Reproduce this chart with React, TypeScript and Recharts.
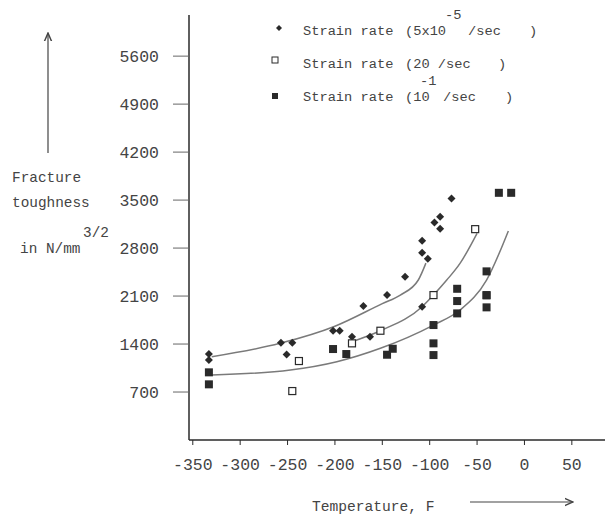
import React from "react";
import { ScatterChart, Scatter, XAxis, YAxis } from "recharts";

// strain rate 5x10^-5 /sec (diamonds)
const slowTemp = [-77, -89, -95, -89, -108, -108, -102, -126, -145, -170, -202, -195, -182, -163, -257, -245, -251, -333, -333, -108];
const slowK = [3524, 3256, 3174, 3081, 2906, 2731, 2643, 2381, 2114, 1954, 1594, 1594, 1506, 1506, 1419, 1419, 1249, 1254, 1166, 1944];

// strain rate 20 /sec (open squares)
const fastTemp = [-52, -96, -152, -182, -238, -245];
const fastK = [3076, 2114, 1594, 1410, 1152, 714];

// strain rate 10^-1 /sec (filled squares)
const midTemp = [-27, -14, -40, -71, -40, -71, -71, -40, -40, -96, -96, -96, -139, -145, -202, -188, -333, -333];
const midK = [3606, 3606, 2460, 2206, 2110, 2027, 1847, 2114, 1935, 1677, 1410, 1239, 1331, 1244, 1327, 1254, 987, 812];

// fitted curves
const slowCurveTemp = [-330, -258, -200, -150, -131, -112, -104];
const slowCurveK = [1215, 1410, 1660, 1990, 2115, 2334, 2580];
const fastCurveTemp = [-182, -152, -108, -96, -82, -68, -50];
const fastCurveK = [1434, 1594, 1944, 2114, 2333, 2576, 3015];
const midCurveTemp = [-330, -247, -198, -152, -96, -68, -40, -17];
const midCurveK = [948, 1021, 1142, 1338, 1677, 1896, 2333, 3050];

const xTicks = [-350, -300, -250, -200, -150, -100, -50, 0, 50];
const yTicks = [700, 1400, 2100, 2800, 3500, 4200, 4900, 5600];

const pairs = (xs: number[], ys: number[]) => xs.map((x, i) => ({ x, y: ys[i] }));

const MONO = "'Liberation Mono', 'DejaVu Sans Mono', monospace";
const INK = "#2a2a2a";
const TEXT = "#444";
const CURVE = "#7a7a7a";

const Diamond = (props: any) => {
  const { cx, cy } = props;
  const r = 4;
  return <polygon points={`${cx},${cy - r} ${cx + r},${cy} ${cx},${cy + r} ${cx - r},${cy}`} fill={INK} />;
};
const OpenSquare = (props: any) => {
  const { cx, cy } = props;
  return <rect x={cx - 3.5} y={cy - 3.5} width={7} height={7} fill="#fff" stroke={INK} strokeWidth={1.2} />;
};
const FilledSquare = (props: any) => {
  const { cx, cy } = props;
  return <rect x={cx - 4} y={cy - 4} width={8} height={8} fill={INK} />;
};
const NoMark = () => <g />;

function Labels() {
  const t = { fontFamily: MONO, fill: TEXT, dominantBaseline: "central" as const };
  return (
    <svg width={606} height={520} style={{ position: "absolute", left: 0, top: 0, pointerEvents: "none" }}>
      <defs>
        <marker id="ah" markerWidth="8" markerHeight="8" refX="7" refY="4" orient="auto">
          <path d="M0,1 L7,4 L0,7" fill="none" stroke="#444" strokeWidth={1.2} />
        </marker>
      </defs>
      {/* legend */}
      <polygon points="279,25 282,28 279,31 276,28" fill={INK} />
      <text x={303} y={31} fontSize={13.7} {...t}>Strain rate</text>
      <text x={405} y={31} fontSize={13.7} {...t}>(5x10</text>
      <text x={445} y={15} fontSize={13.7} {...t}>-5</text>
      <text x={468} y={31} fontSize={13.7} {...t}>/sec</text>
      <text x={529} y={31} fontSize={13.7} {...t}>)</text>

      <rect x={272} y={57} width={6} height={6} fill="#fff" stroke={INK} strokeWidth={1} />
      <text x={303} y={64} fontSize={13.7} {...t}>Strain rate</text>
      <text x={405} y={64} fontSize={13.7} {...t}>(20 /sec</text>
      <text x={498} y={64} fontSize={13.7} {...t}>)</text>

      <rect x={272} y={93} width={6} height={6} fill={INK} />
      <text x={303} y={97} fontSize={13.7} {...t}>Strain rate</text>
      <text x={405} y={97} fontSize={13.7} {...t}>(10</text>
      <text x={420} y={81} fontSize={13.7} {...t}>-1</text>
      <text x={443} y={97} fontSize={13.7} {...t}>/sec</text>
      <text x={505} y={97} fontSize={13.7} {...t}>)</text>

      {/* y label */}
      <line x1={48} y1={153} x2={48} y2={33} stroke="#444" strokeWidth={1.2} markerEnd="url(#ah)" />
      <text x={12} y={178} fontSize={14.4} {...t}>Fracture</text>
      <text x={12} y={203} fontSize={14.4} {...t}>toughness</text>
      <text x={20} y={249} fontSize={14.4} {...t}>in N/mm</text>
      <text x={83} y={233} fontSize={14.4} {...t}>3/2</text>

      {/* x label */}
      <text x={312} y={507} fontSize={14.6} {...t}>Temperature, F</text>
      <line x1={470} y1={502} x2={573} y2={502} stroke="#444" strokeWidth={1.2} markerEnd="url(#ah)" />
    </svg>
  );
}

export default function App() {
  const curveLine = { stroke: CURVE, strokeWidth: 1.5 };
  return (
    <div style={{ position: "absolute", left: 0, top: 0, width: 606, height: 520, background: "#fff" }}>
      <ScatterChart width={606} height={520} margin={{ top: 15, right: 1, left: 0, bottom: 0 }}>
        <XAxis
          type="number"
          dataKey="x"
          domain={[-354, 85]}
          ticks={xTicks}
          allowDataOverflow
          height={80}
          tickSize={5}
          tickMargin={13}
          interval={0}
          axisLine={{ stroke: INK, strokeWidth: 1.5 }}
          tickLine={{ stroke: INK }}
          tick={{ fontSize: 16.5, fill: TEXT, fontFamily: MONO }}
        />
        <YAxis
          type="number"
          dataKey="y"
          domain={[0, 6200]}
          ticks={yTicks}
          allowDataOverflow
          width={189}
          tickSize={16}
          tickMargin={14}
          interval={0}
          axisLine={{ stroke: INK, strokeWidth: 1.5 }}
          tickLine={{ stroke: "#666" }}
          tick={{ fontSize: 16.5, fill: TEXT, fontFamily: MONO }}
        />
        <Scatter data={pairs(slowCurveTemp, slowCurveK)} line={curveLine} lineJointType="monotoneX" shape={NoMark} isAnimationActive={false} />
        <Scatter data={pairs(fastCurveTemp, fastCurveK)} line={curveLine} lineJointType="monotoneX" shape={NoMark} isAnimationActive={false} />
        <Scatter data={pairs(midCurveTemp, midCurveK)} line={curveLine} lineJointType="monotoneX" shape={NoMark} isAnimationActive={false} />
        <Scatter data={pairs(slowTemp, slowK)} shape={Diamond} isAnimationActive={false} />
        <Scatter data={pairs(fastTemp, fastK)} shape={OpenSquare} isAnimationActive={false} />
        <Scatter data={pairs(midTemp, midK)} shape={FilledSquare} isAnimationActive={false} />
      </ScatterChart>
      <Labels />
    </div>
  );
}
